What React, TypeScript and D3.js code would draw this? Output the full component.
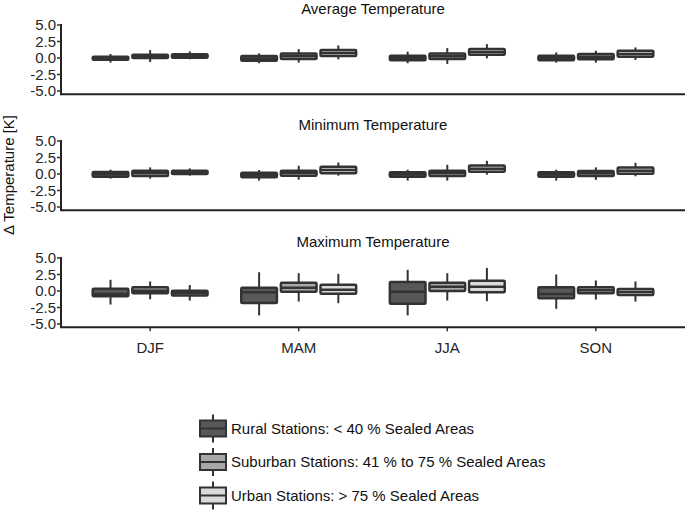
import React from "react";
import * as d3 from "d3";

const seasons = ["DJF", "MAM", "JJA", "SON"];
const groups = ["Rural", "Suburban", "Urban"];
const legendLabels = [
  "Rural Stations: < 40 % Sealed Areas",
  "Suburban Stations: 41 % to 75 % Sealed Areas",
  "Urban Stations: > 75 % Sealed Areas",
];
const panelTitles = ["Average Temperature", "Minimum Temperature", "Maximum Temperature"];
const yTicks = [5.0, 2.5, 0.0, -2.5, -5.0];

// [low whisker, q1, median, q3, high whisker] per season, per group (Rural, Suburban, Urban)
const averageStats = [
  [[-0.7, -0.25, -0.05, 0.2, 0.6], [-0.6, 0.0, 0.2, 0.5, 1.2], [-0.2, 0.05, 0.3, 0.55, 1.0]],
  [[-0.8, -0.4, -0.1, 0.3, 0.7], [-0.7, -0.15, 0.3, 0.7, 1.35], [-0.2, 0.3, 0.75, 1.2, 1.9]],
  [[-0.8, -0.35, 0.0, 0.35, 0.95], [-0.9, -0.15, 0.25, 0.7, 1.5], [-0.05, 0.5, 0.9, 1.35, 2.1]],
  [[-0.7, -0.35, 0.0, 0.35, 0.85], [-0.7, -0.2, 0.2, 0.6, 1.1], [-0.3, 0.2, 0.6, 1.1, 1.6]],
];
const minimumStats = [
  [[-0.7, -0.4, 0.0, 0.3, 0.65], [-0.7, -0.3, 0.15, 0.5, 1.0], [-0.25, 0.0, 0.3, 0.5, 0.85]],
  [[-1.0, -0.5, -0.1, 0.2, 0.6], [-0.85, -0.25, 0.2, 0.5, 1.25], [-0.25, 0.1, 0.6, 1.1, 1.75]],
  [[-1.0, -0.4, -0.05, 0.25, 0.65], [-1.0, -0.3, 0.15, 0.5, 1.4], [-0.1, 0.35, 0.8, 1.3, 2.0]],
  [[-1.0, -0.4, -0.05, 0.25, 0.65], [-0.9, -0.3, 0.1, 0.45, 1.0], [-0.35, 0.05, 0.5, 1.0, 1.7]],
];
const maximumStats = [
  [[-2.05, -0.8, -0.45, 0.35, 1.7], [-1.25, -0.35, 0.05, 0.55, 1.45], [-1.45, -0.7, -0.35, 0.05, 0.9]],
  [[-3.7, -1.8, -0.2, 0.5, 2.85], [-1.6, -0.1, 0.5, 1.25, 2.7], [-1.85, -0.4, 0.2, 0.95, 2.6]],
  [[-3.7, -1.95, -0.1, 1.35, 3.2], [-1.45, 0.0, 0.65, 1.25, 2.7], [-1.55, -0.2, 0.65, 1.55, 3.5]],
  [[-2.7, -1.1, -0.45, 0.55, 2.5], [-1.3, -0.35, 0.1, 0.55, 1.6], [-1.6, -0.6, -0.15, 0.3, 1.45]],
];
const panelStats = [averageStats, minimumStats, maximumStats];

const fills = ["#585858", "#a8a8a8", "#dadada"];
const stroke = "#333333";
const font = "Liberation Sans, Arial, sans-serif";

export default function App() {
  const W = 685;
  const H = 512;
  const left = 61;
  const right = 685;
  const panelTops = [25, 141, 258]; // y of +5
  const panelH = 66; // +5 to -5
  const fs = 15;

  const x = d3.scalePoint<string>().domain(seasons).range([left, right]).padding(0.6);
  const step = x.step();
  const xg = d3
    .scaleBand<string>()
    .domain(groups)
    .range([-0.4 * step, 0.4 * step])
    .paddingInner(0.1)
    .paddingOuter(0.05);

  return (
    <svg
      width={W}
      height={H}
      style={{ position: "absolute", left: 0, top: 0, background: "#fff" }}
      fontFamily={font}
    >
      {panelStats.map((stats, p) => {
        const y = d3.scaleLinear().domain([5, -5]).range([panelTops[p], panelTops[p] + panelH]);
        const bottom = y(-5.5);
        return (
          <g key={p}>
            <text x={(left + right) / 2} y={panelTops[p] - 11.5} textAnchor="middle" fontSize={fs} fill="#111">
              {panelTitles[p]}
            </text>
            <line x1={left} x2={left} y1={y(5) - 1} y2={bottom} stroke="#222" strokeWidth={2} />
            <line x1={left - 1} x2={right} y1={bottom} y2={bottom} stroke="#222" strokeWidth={2} />
            {yTicks.map((t) => (
              <g key={t}>
                <line x1={left - 4} x2={left} y1={y(t)} y2={y(t)} stroke="#333" strokeWidth={1.5} />
                <text x={left - 5} y={y(t)} dy="0.35em" textAnchor="end" fontSize={fs} fill="#262626">
                  {t.toFixed(1)}
                </text>
              </g>
            ))}
            {p === 2 &&
              seasons.map((s) => (
                <g key={s}>
                  <line x1={x(s)} x2={x(s)} y1={bottom} y2={bottom + 4} stroke="#333" strokeWidth={1.5} />
                  <text x={x(s)} y={bottom + 20} dy="0.35em" textAnchor="middle" fontSize={fs} fill="#262626">
                    {s}
                  </text>
                </g>
              ))}
            {seasons.map((s, si) =>
              groups.map((g, gi) => {
                const [lo, q1, med, q3, hi] = stats[si][gi];
                const cx = (x(s) as number) + (xg(g) as number) + xg.bandwidth() / 2;
                const bw = xg.bandwidth();
                return (
                  <g key={s + g}>
                    <line x1={cx} x2={cx} y1={y(hi)} y2={y(q3)} stroke={stroke} strokeWidth={2} />
                    <line x1={cx} x2={cx} y1={y(q1)} y2={y(lo)} stroke={stroke} strokeWidth={2} />
                    <rect
                      x={cx - bw / 2}
                      y={y(q3)}
                      width={bw}
                      height={Math.max(0.5, y(q1) - y(q3))}
                      fill={fills[gi]}
                      stroke={stroke}
                      strokeWidth={2.5}
                      rx={1}
                    />
                    <line x1={cx - bw / 2} x2={cx + bw / 2} y1={y(med)} y2={y(med)} stroke={stroke} strokeWidth={2.5} />
                  </g>
                );
              })
            )}
          </g>
        );
      })}
      <text transform="translate(14,175) rotate(-90)" textAnchor="middle" fontSize={fs} fill="#111">
        Δ Temperature [K]
      </text>
      {legendLabels.map((lab, i) => {
        const cy = 428.5 + i * 33.5;
        return (
          <g key={lab}>
            <line x1={213} x2={213} y1={cy - 14} y2={cy + 14} stroke={stroke} strokeWidth={2} />
            <rect x={200} y={cy - 8} width={26} height={16} fill={fills[i]} stroke={stroke} strokeWidth={2} />
            <line x1={200} x2={226} y1={cy} y2={cy} stroke={stroke} strokeWidth={2} />
            <text x={231} y={cy} dy="0.35em" fontSize={fs} fill="#111">
              {lab}
            </text>
          </g>
        );
      })}
    </svg>
  );
}
